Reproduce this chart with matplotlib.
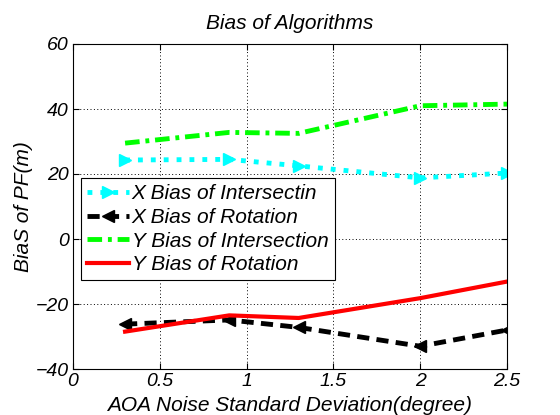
import matplotlib
matplotlib.use("Agg")
import matplotlib.pyplot as plt

plt.rcParams['font.family'] = ['Liberation Sans', 'DejaVu Sans']
plt.rcParams['font.style'] = 'italic'

noise_std = [0.3, 0.9, 1.3, 2.0, 2.5]
x_bias_intersection = [24.3, 24.5, 22.5, 18.8, 20.3]
x_bias_rotation = [-26.2, -24.9, -27.2, -33.0, -28.0]
y_bias_intersection = [29.5, 32.8, 32.5, 41.0, 41.5]
y_bias_rotation = [-28.5, -23.5, -24.3, -18.2, -13.1]

fig = plt.figure(figsize=(5.6, 4.15), dpi=100)
ax = fig.add_axes([73 / 560, 1 - 369 / 415, 434 / 560, 325 / 415])

ax.plot(noise_std, x_bias_intersection, color='#00ffff', linestyle=':', linewidth=3.5,
        marker='>', markersize=9, label='X Bias of Intersectin')
ax.plot(noise_std, x_bias_rotation, color='black', linestyle=(0, (2.5, 1.5)), linewidth=3.5,
        marker='<', markersize=8, label='X Bias of Rotation')
ax.plot(noise_std, y_bias_intersection, color='#00ff00', linestyle=(0, (3, 1.2, 0.8, 1.2)),
        linewidth=3.5, label='Y Bias of Intersection')
ax.plot(noise_std, y_bias_rotation, color='red', linestyle='-', linewidth=3,
        label='Y Bias of Rotation')

ax.set_xlim(0, 2.5)
ax.set_ylim(-40, 60)
ax.set_xticks([0, 0.5, 1, 1.5, 2, 2.5])
ax.set_xticklabels(['0', '0.5', '1', '1.5', '2', '2.5'])
ax.set_yticks([-40, -20, 0, 20, 40, 60])
ax.tick_params(direction='in', labelsize=14, length=4, top=True, right=True, pad=3)
ax.grid(True, color='black', linestyle=(0, (1, 2.5)), linewidth=0.7)

ax.set_title('Bias of Algorithms', fontsize=15, pad=11)
ax.set_xlabel('AOA Noise Standard Deviation(degree)', fontsize=15, labelpad=4)
ax.set_ylabel('BiaS of PF(m)', fontsize=15, labelpad=2)

leg = ax.legend(loc='upper left', bbox_to_anchor=(0.018, 0.587), fontsize=15,
                frameon=True, fancybox=False, edgecolor='black', framealpha=1,
                handlelength=2.0, handletextpad=0.15, borderpad=0.3, labelspacing=0.22,
                borderaxespad=0)
leg.get_frame().set_linewidth(0.8)

fig.savefig('out.png', dpi=100)
